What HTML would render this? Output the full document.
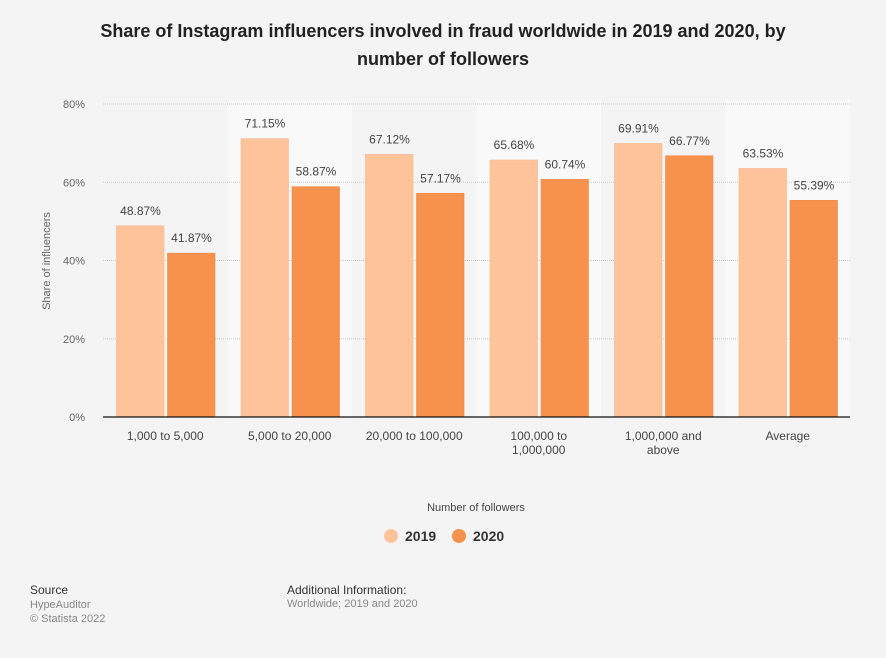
<!DOCTYPE html>
<html><head><meta charset="utf-8"><style>
body{margin:0;width:886px;height:658px;background:#f4f4f4;font-family:"Liberation Sans",sans-serif;overflow:hidden;position:relative}
.t{position:absolute;white-space:nowrap}
</style></head><body>
<div class="t" style="left:0;width:886px;top:17px;text-align:center;font-size:18px;font-weight:bold;color:#222;line-height:28px;white-space:normal">Share of Instagram influencers involved in fraud worldwide in 2019 and 2020, by<br>number of followers</div>
<svg id="c" width="886" height="658" style="position:absolute;left:0;top:0"></svg>
<div class="t" style="left:30px;top:583px;font-size:12px;color:#333">Source</div>
<div class="t" style="left:30px;top:598px;font-size:11px;color:#888;line-height:14px">HypeAuditor<br>© Statista 2022</div>
<div class="t" style="left:287px;top:583px;font-size:12px;color:#333">Additional Information:</div>
<div class="t" style="left:287px;top:598px;font-size:11px;color:#888">Worldwide; 2019 and 2020</div>
<script>
const categories=[["1,000 to 5,000"],["5,000 to 20,000"],["20,000 to 100,000"],["100,000 to","1,000,000"],["1,000,000 and","above"],["Average"]];
const s2019=[48.87,71.15,67.12,65.68,69.91,63.53];
const s2020=[41.87,58.87,57.17,60.74,66.77,55.39];
const ticks=[0,20,40,60,80];
const NS="http://www.w3.org/2000/svg";
const svg=document.getElementById('c');
const X0=103,X1=850,Y0=417,Y80=104;
const gw=(X1-X0)/categories.length;
const y=v=>Y0-(v/80)*(Y0-Y80);
function mk(tag,a,txt){const e=document.createElementNS(NS,tag);for(const k in a)e.setAttribute(k,a[k]);if(txt!=null)e.textContent=txt;svg.appendChild(e);return e;}
categories.forEach((c,i)=>{if(i%2==1){const r=mk('rect',{x:X0+i*gw,y:Y80-4,width:gw,height:Y0-Y80+4,fill:'#f9f9f9'});

}});
ticks.forEach(t=>{if(t>0){const l=mk('line',{x1:X0,x2:X1,y1:y(t),y2:y(t),stroke:'#ccc','stroke-dasharray':'1,1'});

}
const tx=mk('text',{x:85,y:y(t)+4,'text-anchor':'end','font-size':11,fill:'#666'},t+'%');

});
const yt=mk('text',{x:0,y:0,transform:'translate(50,261) rotate(-90)','text-anchor':'middle','font-size':11,fill:'#666'},'Share of influencers');


categories.forEach((c,i)=>{const gx=X0+i*gw;
[[s2019[i],'#fec39b',13.5],[s2020[i],'#f7924c',64.5]].forEach(([v,col,off],j)=>{
const b=mk('rect',{x:gx+off,y:y(v),width:47.5,height:Y0-y(v),fill:col,stroke:j?'#ef8a45':'#f1b890','stroke-width':0.6});


const l=mk('text',{x:gx+off+24,y:y(v)-11,'text-anchor':'middle','font-size':12,fill:'#444'},v.toFixed(2)+'%');

});
c.forEach((ln,k)=>{const t=mk('text',{x:gx+gw/2,y:440+k*14,'text-anchor':'middle','font-size':12,fill:'#444'},ln);

});});
const ax=mk('line',{x1:X0,x2:X1,y1:Y0,y2:Y0,stroke:'#111','stroke-width':1.2});


const xt=mk('text',{x:476,y:511,'text-anchor':'middle','font-size':11,fill:'#444'},'Number of followers');


[['2019','#fec39b',391,405],['2020','#f7924c',459,473]].forEach(([n,c,cx,tx])=>{
const d=mk('circle',{cx:cx,cy:536,r:7,fill:c});


const t=mk('text',{x:tx,y:541,'font-size':14,'font-weight':'bold',fill:'#333'},n);

});
</script>
</body></html>
